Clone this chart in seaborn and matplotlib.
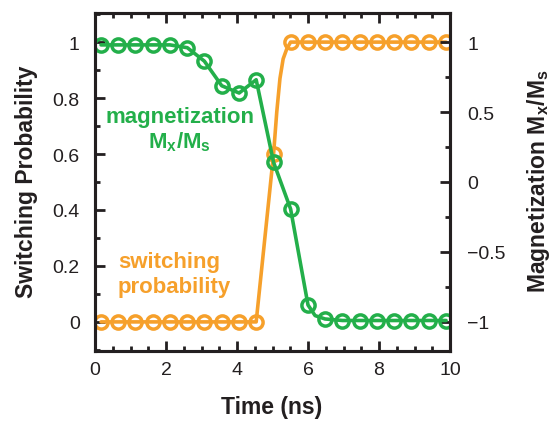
import matplotlib
matplotlib.use("Agg")
import matplotlib.pyplot as plt
from matplotlib.ticker import MultipleLocator, FixedLocator, FixedFormatter
import seaborn as sns
import pandas as pd

# ---- data -------------------------------------------------------------
# sample times (ns) where the simulation values are marked
t_marks = [0.17, 0.65, 1.14, 1.62, 2.11, 2.60, 3.08, 3.57, 4.06, 4.54, 5.03,
           5.51, 6.00, 6.48, 6.97, 7.46, 7.94, 8.43, 8.91, 9.40, 9.89]
# switching probability at the marked times
p_marks = [0, 0, 0, 0, 0, 0, 0, 0, 0, 0, 0.60,
           1, 1, 1, 1, 1, 1, 1, 1, 1, 1]
# normalised magnetization Mx/Ms at the marked times
m_marks = [0.98, 0.98, 0.98, 0.98, 0.98, 0.96, 0.864, 0.688, 0.636, 0.731, 0.141,
           -0.193, -0.879, -0.979, -0.99, -0.99, -0.99, -0.99, -0.99, -0.99, -0.99]

# extra points along the curves between samples
p_curve_t = [5.12, 5.21, 5.30, 5.40]
p_curve_v = [0.75, 0.87, 0.94, 0.975]
m_curve_t = [6.20]
m_curve_v = [-0.955]

x_ticks = [0, 2, 4, 6, 8, 10]
x_labels = ["0", "2", "4", "6", "8", "10"]
p_ticks = [0, 0.2, 0.4, 0.6, 0.8, 1]
p_labels = ["0", "0.2", "0.4", "0.6", "0.8", "1"]
m_ticks = [-1, -0.5, 0, 0.5, 1]
m_labels = ["\u22121", "\u22120.5", "0", "0.5", "1"]

# ---- style ------------------------------------------------------------
sns.set_theme(style="ticks")
plt.rcParams["font.family"] = ["Liberation Sans", "DejaVu Sans"]
plt.rcParams["mathtext.fontset"] = "custom"
plt.rcParams["mathtext.rm"] = "Liberation Sans:bold"
plt.rcParams["mathtext.it"] = "Liberation Sans:bold"
plt.rcParams["mathtext.bf"] = "Liberation Sans:bold"
plt.rcParams["mathtext.default"] = "rm"

GREEN = "#23AF4A"
ORANGE = "#F6A02B"
INK = "#231F20"
LW = 2.6
MS = 9.5
MEW = 2.5
TICK_FS = 14

fig = plt.figure(figsize=(5.55, 4.35), dpi=100)
ax = fig.add_axes([95 / 555, (435 - 352) / 435, 355 / 555, 338 / 435])
ax2 = ax.twinx()

# switching probability (left axis)
prob_line = pd.DataFrame({
    "t": t_marks + p_curve_t,
    "p": p_marks + p_curve_v,
}).sort_values("t")
sns.lineplot(data=prob_line, x="t", y="p", ax=ax, color=ORANGE, lw=LW,
             sort=True, estimator=None)
sns.lineplot(x=t_marks, y=p_marks, ax=ax, color=ORANGE, lw=0, marker="o",
             markersize=MS, markerfacecolor="none", markeredgecolor=ORANGE,
             markeredgewidth=MEW, estimator=None)

# magnetization (right axis)
mag_line = pd.DataFrame({
    "t": t_marks + m_curve_t,
    "m": m_marks + m_curve_v,
}).sort_values("t")
sns.lineplot(data=mag_line, x="t", y="m", ax=ax2, color=GREEN, lw=LW,
             sort=True, estimator=None)
sns.lineplot(x=t_marks, y=m_marks, ax=ax2, color=GREEN, lw=0, marker="o",
             markersize=MS, markerfacecolor="none", markeredgecolor=GREEN,
             markeredgewidth=MEW, estimator=None)

# ---- axes -------------------------------------------------------------
ax.set_xlim(0, 10)
ax.set_ylim(-0.104, 1.104)
ax2.set_ylim(-1.208, 1.208)

ax.xaxis.set_major_locator(FixedLocator(x_ticks))
ax.xaxis.set_major_formatter(FixedFormatter(x_labels))
ax.xaxis.set_minor_locator(MultipleLocator(0.5))
ax.yaxis.set_major_locator(FixedLocator(p_ticks))
ax.yaxis.set_major_formatter(FixedFormatter(p_labels))
ax.yaxis.set_minor_locator(MultipleLocator(0.1))
ax2.yaxis.set_major_locator(FixedLocator(m_ticks))
ax2.yaxis.set_major_formatter(FixedFormatter(m_labels))
ax2.yaxis.set_minor_locator(MultipleLocator(0.25))

for a in (ax, ax2):
    for s in a.spines.values():
        s.set_linewidth(2.2)
        s.set_color(INK)
        s.set_visible(True)
    a.set_xlabel("")
    a.set_ylabel("")

ax.tick_params(axis="x", which="both", direction="in", top=True, bottom=True,
               color=INK, width=2.0, labelsize=TICK_FS, labelcolor=INK, pad=7)
ax.tick_params(axis="y", which="both", direction="in", left=True, right=False,
               color=INK, width=2.0, labelsize=TICK_FS, labelcolor=INK, pad=11)
ax2.tick_params(axis="y", which="both", direction="in", left=False, right=True,
                color=INK, width=2.0, labelsize=TICK_FS, labelcolor=INK, pad=12.5)
for a in (ax, ax2):
    a.tick_params(which="major", length=7)
    a.tick_params(which="minor", length=3.5)
ax.tick_params(axis="x", which="major", length=7)
ax.tick_params(axis="x", which="minor", length=3.5)

# ---- labels -----------------------------------------------------------
fig.text(27 / 555, 1 - 182 / 435, "Switching Probability", rotation=90,
         ha="center", va="center", rotation_mode="anchor",
         fontsize=16.5, fontweight="bold", color=INK)
fig.text(538 / 555, 1 - 181 / 435, "Magnetization M$_{x}$/M$_{s}$", rotation=90,
         ha="center", va="center", rotation_mode="anchor",
         fontsize=16.5, fontweight="bold", color=INK)
fig.text(272 / 555, 1 - 408 / 435, "Time (ns)", ha="center", va="center",
         fontsize=16.5, fontweight="bold", color=INK)

ax.text(0.239, 0.655, "magnetization\nM$_{x}$/M$_{s}$", transform=ax.transAxes,
        ha="center", va="center", multialignment="center",
        fontsize=16, fontweight="bold", color=GREEN, linespacing=1.15)
ax.text(0.065, 0.228, "switching\nprobability", transform=ax.transAxes,
        ha="left", va="center", multialignment="left",
        fontsize=16, fontweight="bold", color=ORANGE, linespacing=1.25)

fig.savefig("out.png", dpi=100)
